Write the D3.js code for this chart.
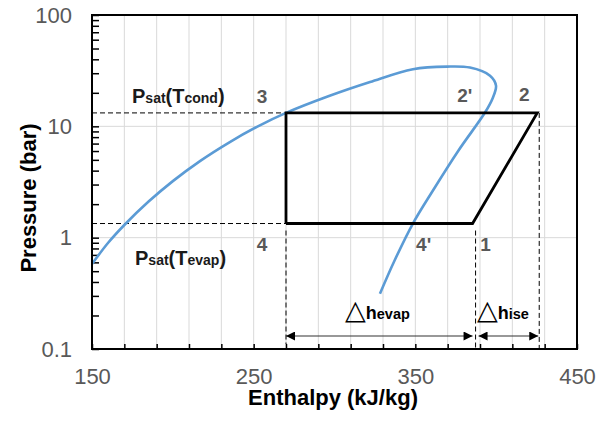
<!DOCTYPE html>
<html>
<head>
<meta charset="utf-8">
<script src="https://cdn.jsdelivr.net/npm/d3@7"></script>
<style>
  html, body { margin: 0; padding: 0; background: #fff; }
  svg { display: block; font-family: "Liberation Sans", Arial, sans-serif; }
</style>
</head>
<body>
<svg id="chart" width="598" height="424"></svg>
<script>
// Axis ticks
const hTickValues = d3.range(150, 451, 20);
const hLabelValues = [150, 250, 350, 450];
const pLabelValues = [0.1, 1, 10, 100];

// Saturation dome (liquid line up to the critical region, then vapour line down)
const satH = [150, 160, 170, 185, 200, 217, 235, 252, 270, 297, 322, 348.5, 369.6, 383.8, 396.2, 399.9, 397.7, 393.1, 376.6, 360.8, 348.5, 337.1, 328.1];
const satP = [0.58, 0.90, 1.30, 2.11, 3.22, 4.90, 7.19, 9.89, 13.2, 18.8, 25.0, 32.6, 34.4, 33.7, 28.5, 23.2, 17.7, 13.3, 6.04, 2.64, 1.34, 0.621, 0.314];

// Refrigeration cycle 4 -> 1 -> 2 -> 3 -> 4
const cycleH = [270, 385.4, 425.4, 270, 270];
const cycleP = [1.34, 1.34, 13.2, 13.2, 1.34];

// State point labels
const stateNames = ["1", "2", "2'", "3", "4", "4'"];
const stateH = [385.4, 425.4, 393, 270, 270, 347.7];
const stateP = [1.34, 13.2, 13.2, 13.2, 1.34, 1.34];

const pCond = 13.2, pEvap = 1.34;

const svg = d3.select("#chart");
const L = 92, R = 577, T = 15, B = 349;

const x = d3.scaleLinear().domain([150, 450]).range([L, R]);
const y = d3.scaleLog().domain([0.1, 100]).range([B, T]);

// Grid
const grid = svg.append("g").attr("stroke", "#d9d9d9").attr("stroke-width", 1);
grid.selectAll("line.v").data(hTickValues.filter(v => v > 150 && v < 450)).join("line")
  .attr("x1", d => x(d)).attr("x2", d => x(d)).attr("y1", T).attr("y2", B);
grid.selectAll("line.h").data([1, 10]).join("line")
  .attr("x1", L).attr("x2", R).attr("y1", d => y(d)).attr("y2", d => y(d));

// Axes
const fmtH = v => hLabelValues.includes(v) ? String(v) : "";
const xAxis = d3.axisBottom(x).tickValues(hTickValues).tickFormat(fmtH)
  .tickSizeInner(-5).tickSizeOuter(0).tickPadding(19);
const pMinor = [];
[0.1, 1, 10].forEach(dec => { for (let k = 1; k <= 10; k++) pMinor.push(+(dec * k).toPrecision(3)); });
const pTicks = Array.from(new Set(pMinor));
const fmtP = v => pLabelValues.some(p => Math.abs(p - v) < 1e-9) ? String(v) : "";
const yAxis = d3.axisLeft(y).tickValues(pTicks).tickFormat(fmtP)
  .tickSizeInner(-7).tickSizeOuter(0).tickPadding(20);

function styleAxis(g) {
  g.select(".domain").remove();
  g.selectAll(".tick line").attr("stroke", "#000").attr("stroke-width", 1.5);
  g.selectAll(".tick text").attr("fill", "#595959").attr("font-size", 22)
    .attr("font-family", "'Liberation Sans', Arial, sans-serif");
}
svg.append("g").attr("transform", `translate(0,${B})`).call(xAxis).call(styleAxis);
svg.append("g").attr("transform", `translate(${L},0)`).call(yAxis).call(styleAxis);

// Reference dashes
const dash = svg.append("g").attr("stroke", "#000").attr("stroke-width", 1).attr("stroke-dasharray", "5,3").attr("fill", "none");
dash.append("line").attr("x1", L).attr("x2", x(270)).attr("y1", y(pCond)).attr("y2", y(pCond));
dash.append("line").attr("x1", L).attr("x2", x(270)).attr("y1", y(pEvap)).attr("y2", y(pEvap));
dash.append("line").attr("x1", x(270)).attr("x2", x(270)).attr("y1", y(pEvap) + 7).attr("y2", B - 5);
dash.append("line").attr("x1", x(385.4) + 3).attr("x2", x(385.4) + 3).attr("y1", y(pEvap) + 7).attr("y2", B);
dash.append("line").attr("x1", x(425.4) + 2).attr("x2", x(425.4) + 2).attr("y1", y(pCond)).attr("y2", B);

// Saturation dome
const satData = satH.map((h, i) => [h, satP[i]]);
svg.append("path").datum(satData)
  .attr("fill", "none").attr("stroke", "#5b9bd5").attr("stroke-width", 2.6)
  .attr("d", d3.line().x(d => x(d[0])).y(d => y(d[1])).curve(d3.curveCatmullRom.alpha(0.5)));

// Cycle
const cycData = cycleH.map((h, i) => [h, cycleP[i]]);
svg.append("path").datum(cycData)
  .attr("fill", "none").attr("stroke", "#000").attr("stroke-width", 2.8).attr("stroke-linejoin", "miter")
  .attr("d", d3.line().x(d => x(d[0])).y(d => y(d[1])));

// Frame
svg.append("rect").attr("x", L).attr("y", T).attr("width", R - L).attr("height", B - T)
  .attr("fill", "none").attr("stroke", "#000").attr("stroke-width", 2);

// State labels
const stateOffsets = { "1": [13, 27], "2": [-13, -12], "2'": [-20, -11], "3": [-24, -10], "4": [-24, 27], "4'": [12, 27] };
svg.append("g").selectAll("text").data(stateNames).join("text")
  .attr("x", (d, i) => x(stateH[i]) + stateOffsets[d][0])
  .attr("y", (d, i) => y(stateP[i]) + stateOffsets[d][1])
  .attr("text-anchor", "middle").attr("font-size", 19).attr("font-weight", "bold").attr("fill", "#595959")
  .text(d => d);

// Saturation pressure labels
function psatLabel(xp, yp, sub) {
  const t = svg.append("text").attr("x", xp).attr("y", yp).attr("font-weight", "bold").attr("fill", "#1a1a1a");
  t.append("tspan").attr("font-size", 20).text("P");
  t.append("tspan").attr("font-size", 14).text("sat");
  t.append("tspan").attr("font-size", 20).text("(T");
  t.append("tspan").attr("font-size", 14).text(sub);
  t.append("tspan").attr("font-size", 20).text(")");
}
psatLabel(132, y(pCond) - 10, "cond");
psatLabel(135, y(pEvap) + 41, "evap");

// Enthalpy-difference arrows
const defs = svg.append("defs");
["s", "e"].forEach(k => {
  defs.append("marker").attr("id", "arr-" + k)
    .attr("viewBox", "0 0 10 10").attr("refX", k === "e" ? 10 : 0).attr("refY", 5)
    .attr("markerWidth", 11).attr("markerHeight", 9).attr("markerUnits", "userSpaceOnUse")
    .attr("orient", "auto")
    .append("path").attr("d", k === "e" ? "M0,0L10,5L0,10Z" : "M10,0L0,5L10,10Z").attr("fill", "#000");
});
const arrowY = B - 13;
svg.append("line").attr("x1", x(270)).attr("x2", x(385.4)).attr("y1", arrowY).attr("y2", arrowY)
  .attr("stroke", "#333").attr("stroke-width", 1.2)
  .attr("marker-start", "url(#arr-s)").attr("marker-end", "url(#arr-e)");
svg.append("line").attr("x1", x(385.4) + 6).attr("x2", x(425.4) + 1).attr("y1", arrowY).attr("y2", arrowY)
  .attr("stroke", "#333").attr("stroke-width", 1.2)
  .attr("marker-start", "url(#arr-s)").attr("marker-end", "url(#arr-e)");

function deltaLabel(xp, yp, sub) {
  const t = svg.append("text").attr("x", xp).attr("y", yp).attr("fill", "#000");
  t.append("tspan").attr("font-family", "'DejaVu Sans', sans-serif").attr("font-size", 27).text("△");
  t.append("tspan").attr("font-size", 18).attr("font-weight", "bold").text("h");
  t.append("tspan").attr("font-size", 14.5).attr("font-weight", "bold").text(sub);
}
deltaLabel(345, arrowY - 17, "evap");
deltaLabel(477, arrowY - 17, "ise");

// Axis titles
svg.append("text").attr("x", 333).attr("y", 405).attr("text-anchor", "middle")
  .attr("font-size", 22).attr("font-weight", "bold").attr("fill", "#000").text("Enthalpy (kJ/kg)");
svg.append("text").attr("transform", "translate(36,198) rotate(-90)").attr("text-anchor", "middle")
  .attr("font-size", 22).attr("font-weight", "bold").attr("fill", "#000").text("Pressure (bar)");
</script>
</body>
</html>
